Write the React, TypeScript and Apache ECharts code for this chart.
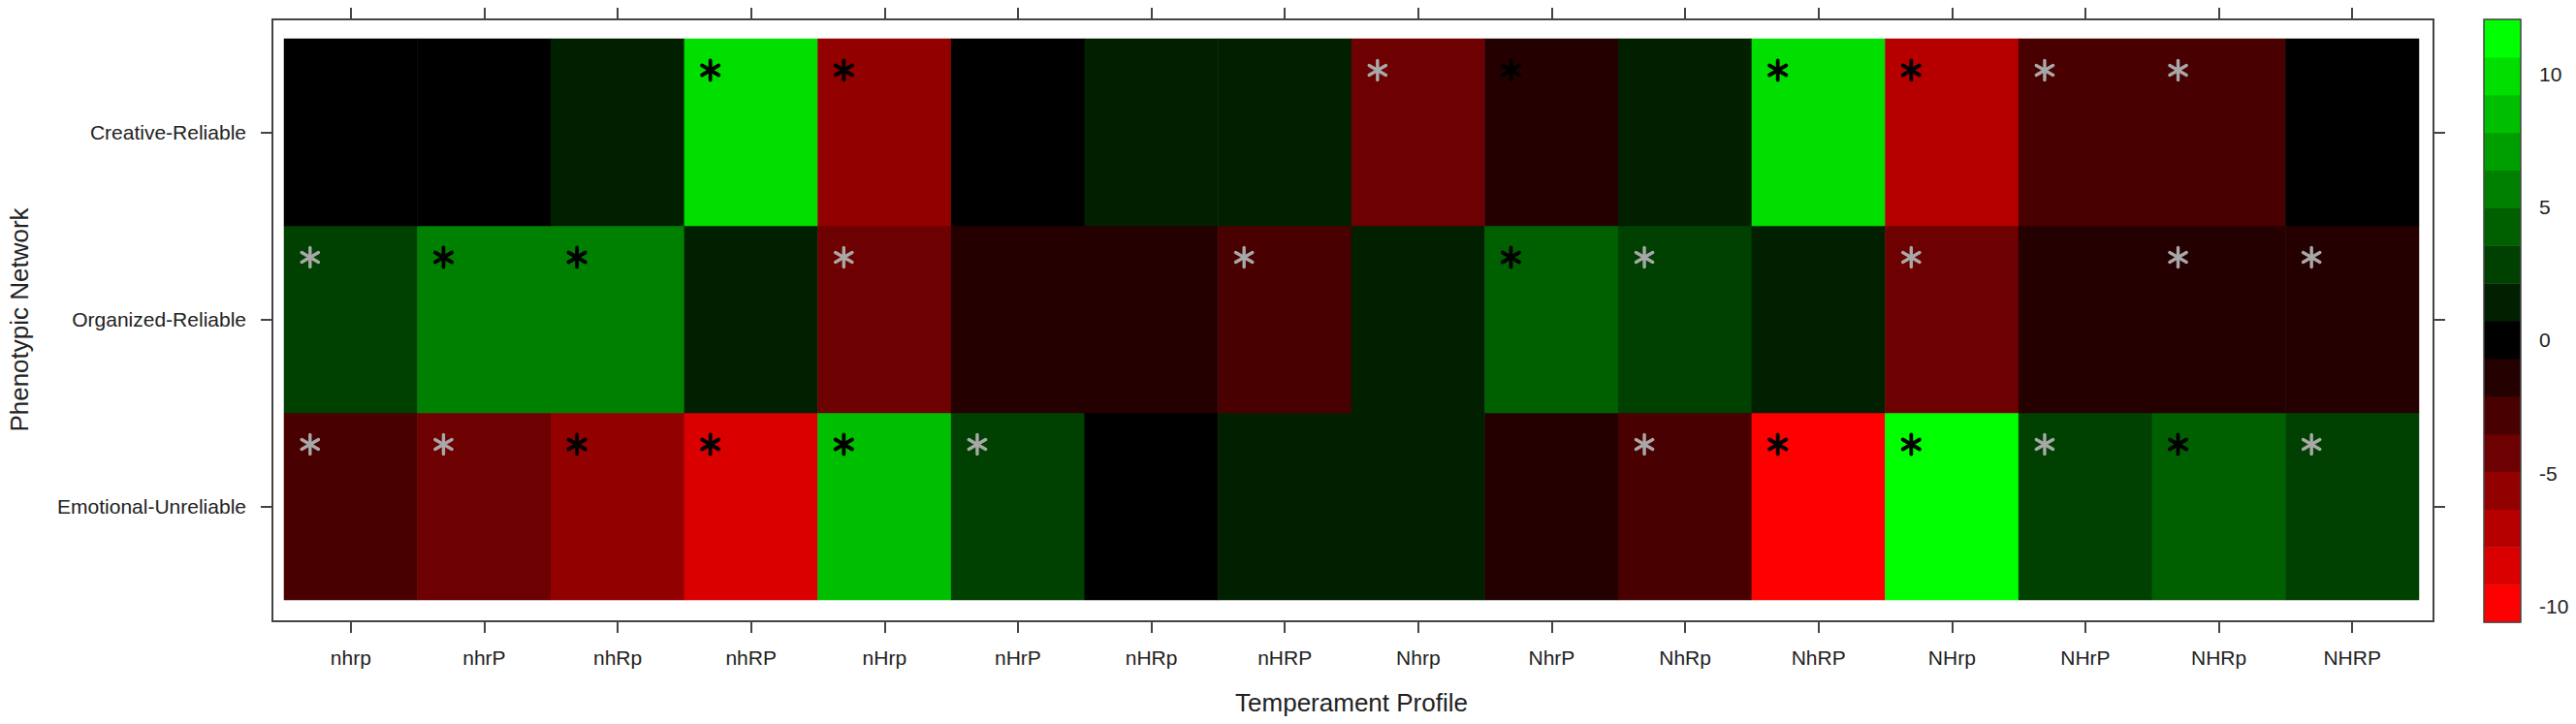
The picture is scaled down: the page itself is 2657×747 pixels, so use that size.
import React, { useEffect, useRef } from 'react';
import * as echarts from 'echarts';

const PROFILES = ['nhrp', 'nhrP', 'nhRp', 'nhRP', 'nHrp', 'nHrP', 'nHRp', 'nHRP', 'Nhrp', 'NhrP', 'NhRp', 'NhRP', 'NHrp', 'NHrP', 'NHRp', 'NHRP'];
// bottom to top
const NETWORKS = ['Emotional-Unreliable', 'Organized-Reliable', 'Creative-Reliable'];

const CREATIVE_RELIABLE = [0.2, -0.3, 1.2, 9.8, -5.6, 0.1, 1.0, 1.3, -4.4, -1.6, 1.1, 10.1, -7.2, -3.1, -2.9, -0.2];
const ORGANIZED_RELIABLE = [2.6, 5.3, 5.5, 1.4, -4.5, -1.5, -1.3, -3.3, 1.2, 4.0, 3.0, 1.5, -4.1, -1.8, -1.7, -1.2];
const EMOTIONAL_UNRELIABLE = [-3.0, -4.6, -5.9, -8.7, 8.4, 2.5, -0.1, 1.0, 0.9, -1.9, -3.4, -10.6, 12.04, 2.7, 4.4, 2.3];

// 0 = none, 1 = grey asterisk, 2 = black asterisk
const SIG_CREATIVE = [0, 0, 0, 2, 2, 0, 0, 0, 1, 2, 0, 2, 2, 1, 1, 0];
const SIG_ORGANIZED = [1, 2, 2, 0, 1, 0, 0, 1, 0, 2, 1, 0, 1, 0, 1, 1];
const SIG_EMOTIONAL = [1, 1, 2, 2, 2, 1, 0, 0, 0, 0, 1, 2, 2, 1, 2, 1];

const COLOR_MIN = -10.6;
const COLOR_MAX = 12.04;
const BAND_COLORS = [
  '#FF0000', '#DB0000', '#B60000', '#920000', '#6D0000', '#490000', '#240000',
  '#000000',
  '#002000', '#004000', '#006000', '#008000', '#009F00', '#00BF00', '#00DF00', '#00FF00',
];
const COLORBAR_TICKS = [-10, -5, 0, 5, 10];

const FONT = "'Liberation Sans', Arial, sans-serif";
const TEXT_COLOR = '#222';
const LINE_COLOR = '#444';

export default function App() {
  const ref = useRef<HTMLDivElement>(null);

  useEffect(() => {
    if (!ref.current) return;
    const chart = echarts.init(ref.current, undefined, { renderer: 'svg' });

    const rows = [EMOTIONAL_UNRELIABLE, ORGANIZED_RELIABLE, CREATIVE_RELIABLE];
    const sigs = [SIG_EMOTIONAL, SIG_ORGANIZED, SIG_CREATIVE];
    const heat: number[][] = [];
    const stars: number[][] = [];
    rows.forEach((vals, r) => {
      vals.forEach((v, c) => heat.push([c, r, v]));
    });
    sigs.forEach((s, r) => {
      s.forEach((v, c) => {
        if (v > 0) stars.push([c, r, v]);
      });
    });

    const n = BAND_COLORS.length;
    const w = (COLOR_MAX - COLOR_MIN) / n;
    const pieces = BAND_COLORS.map((color, k) => {
      const lo = COLOR_MIN + k * w;
      const hi = lo + w;
      if (k === 0) return { lt: hi, color };
      if (k === n - 1) return { gte: lo, color };
      return { gte: lo, lt: hi, color };
    });
    const bands = BAND_COLORS.map((_, k) => [0, COLOR_MIN + k * w, COLOR_MIN + (k + 1) * w, k]);

    const tickStyle = { color: LINE_COLOR, width: 2 };
    const labelStyle = { fontFamily: FONT, fontSize: 21, color: TEXT_COLOR };

    const option: any = {
      animation: false,
      backgroundColor: '#ffffff',
      grid: [
        { left: 293, top: 40, width: 2202, height: 579 },
        { left: 2562, top: 20, width: 38, height: 622 },
      ],
      xAxis: [
        {
          type: 'category', gridIndex: 0, data: PROFILES, position: 'bottom', offset: 22,
          axisLine: { show: false },
          axisTick: { show: true, alignWithLabel: true, length: 12, lineStyle: tickStyle },
          axisLabel: { ...labelStyle, margin: 27 },
          splitLine: { show: false },
        },
        {
          type: 'category', gridIndex: 0, data: PROFILES, position: 'top', offset: 20,
          axisLine: { show: false },
          axisTick: { show: true, alignWithLabel: true, length: 12, lineStyle: tickStyle },
          axisLabel: { show: false },
          splitLine: { show: false },
        },
        { type: 'value', gridIndex: 1, min: 0, max: 1, show: false },
      ],
      yAxis: [
        {
          type: 'category', gridIndex: 0, data: NETWORKS, position: 'left', offset: 12,
          axisLine: { show: false },
          axisTick: { show: true, alignWithLabel: true, length: 12, lineStyle: tickStyle },
          axisLabel: { ...labelStyle, margin: 27 },
          splitLine: { show: false },
        },
        {
          type: 'category', gridIndex: 0, data: NETWORKS, position: 'right', offset: 15,
          axisLine: { show: false },
          axisTick: { show: true, alignWithLabel: true, length: 12, lineStyle: tickStyle },
          axisLabel: { show: false },
          splitLine: { show: false },
        },
        {
          type: 'value', gridIndex: 1, min: COLOR_MIN, max: COLOR_MAX, position: 'right',
          axisLine: { show: false },
          axisTick: { show: true, length: 10, lineStyle: tickStyle, customValues: COLORBAR_TICKS },
          axisLabel: { ...labelStyle, margin: 19, customValues: COLORBAR_TICKS },
          splitLine: { show: false },
        },
      ],
      visualMap: {
        type: 'piecewise', show: false, seriesIndex: 0, dimension: 2, pieces,
      },
      series: [
        {
          type: 'heatmap', xAxisIndex: 0, yAxisIndex: 0, data: heat,
          itemStyle: { borderWidth: 0 },
          emphasis: { disabled: true },
        },
        {
          type: 'custom', xAxisIndex: 0, yAxisIndex: 0, data: stars, z: 5,
          renderItem: (_params: any, api: any) => {
            const p = api.coord([api.value(0), api.value(1)]);
            const sig = api.value(2);
            const color = sig === 2 ? '#000000' : '#a8a8a8';
            const cx = p[0] - 42;
            const cy = p[1] - 64;
            const r = 10;
            const children = [0, 60, 120].map((deg) => {
              const a = (deg * Math.PI) / 180;
              return {
                type: 'line',
                shape: {
                  x1: cx - r * Math.sin(a), y1: cy - r * Math.cos(a),
                  x2: cx + r * Math.sin(a), y2: cy + r * Math.cos(a),
                },
                style: { stroke: color, lineWidth: sig === 2 ? 3.8 : 3.4, lineCap: 'round' },
              };
            });
            return { type: 'group', children };
          },
        },
        {
          type: 'custom', xAxisIndex: 2, yAxisIndex: 2, data: bands,
          encode: { x: 0, y: [1, 2] },
          renderItem: (params: any, api: any) => {
            const lo = api.coord([0, api.value(1)]);
            const hi = api.coord([0, api.value(2)]);
            const k = api.value(3);
            const cs = params.coordSys;
            return {
              type: 'rect',
              shape: { x: cs.x, y: hi[1], width: cs.width, height: lo[1] - hi[1] + 0.5 },
              style: { fill: BAND_COLORS[k] },
            };
          },
        },
      ],
      graphic: [
        {
          type: 'rect', z: 10, silent: true,
          shape: { x: 281, y: 20, width: 2229, height: 621 },
          style: { fill: 'none', stroke: LINE_COLOR, lineWidth: 2 },
        },
        {
          type: 'rect', z: 10, silent: true,
          shape: { x: 2562, y: 20, width: 38, height: 622 },
          style: { fill: 'none', stroke: LINE_COLOR, lineWidth: 1.5 },
        },
        {
          type: 'text', x: 1394, y: 725, silent: true,
          style: {
            text: 'Temperament Profile', fontFamily: FONT, fontSize: 26, fill: TEXT_COLOR,
            textAlign: 'center', textVerticalAlign: 'middle',
          },
        },
        {
          type: 'text', x: 20, y: 330, rotation: Math.PI / 2, silent: true,
          style: {
            text: 'Phenotypic Network', fontFamily: FONT, fontSize: 26, fill: TEXT_COLOR,
            textAlign: 'center', textVerticalAlign: 'middle',
          },
        },
      ],
    };

    chart.setOption(option);
    return () => chart.dispose();
  }, []);

  return (
    <div
      ref={ref}
      style={{ position: 'fixed', left: 0, top: 0, width: 2657, height: 747, background: '#fff' }}
    />
  );
}
